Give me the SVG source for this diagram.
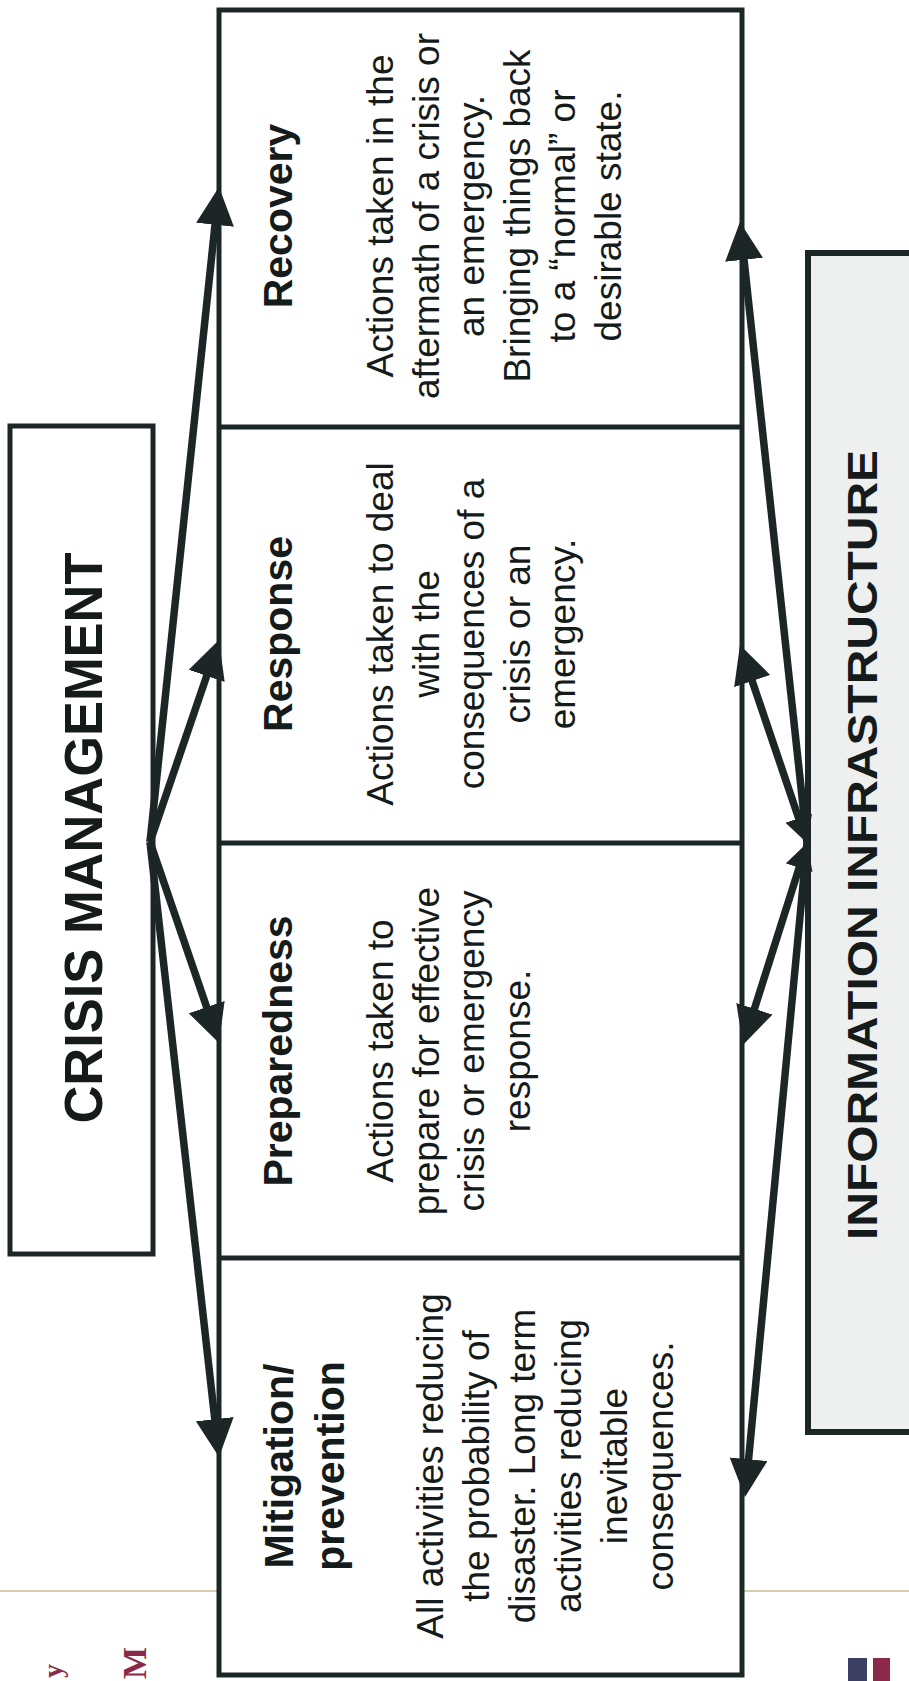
<svg xmlns="http://www.w3.org/2000/svg" width="909" height="1681" viewBox="0 0 909 1681">
<style>
.box{fill:#ffffff;stroke:#1d2626;stroke-width:5}
.div{stroke:#1d2626;stroke-width:5;fill:none}
.conn{stroke:#1d2626;stroke-width:7.5;fill:none}
.title{font-family:"Liberation Sans",Arial,sans-serif;font-weight:bold;font-size:41px;fill:#151a1a;text-anchor:middle}
.body{font-family:"Liberation Sans",Arial,sans-serif;font-size:37px;fill:#151a1a;text-anchor:middle}
.big{font-family:"Liberation Sans Narrow","Liberation Sans",Arial,sans-serif;font-weight:bold;fill:#151a1a;text-anchor:middle}
.frag{font-family:"Liberation Serif",serif;font-weight:bold;fill:#8a2a48}
</style>
<defs>
<marker id="ah" markerUnits="userSpaceOnUse" markerWidth="40" markerHeight="40" refX="18" refY="19" orient="auto">
<path d="M0,0 L38,19 L0,38 z" fill="#1d2626"/>
</marker>
<marker id="ahs" markerUnits="userSpaceOnUse" markerWidth="30" markerHeight="30" refX="14" refY="14" orient="auto-start-reverse">
<path d="M0,0 L26,14 L0,28 z" fill="#1d2626"/>
</marker>
</defs>
<rect width="909" height="1681" fill="#ffffff"/>
<line x1="0" y1="1591" x2="909" y2="1591" stroke="#c9bc8e" stroke-width="1.5"/>
<rect x="848" y="1658" width="19" height="30" fill="#3b3f63"/>
<rect x="873" y="1658" width="17" height="30" fill="#8a2a48"/>
<text class="frag" font-size="28" transform="translate(62,1678) rotate(-90)">y</text>
<text class="frag" font-size="34" transform="translate(146,1679) rotate(-90)">M</text>

<g id="crisis-management">
<rect class="box" x="10" y="426" width="143" height="828"/>
<text class="big" font-size="54" transform="translate(102,838) rotate(-90)" textLength="571" lengthAdjust="spacingAndGlyphs">CRISIS MANAGEMENT</text>
</g>

<g id="information-infrastructure">
<rect x="808" y="253" width="140" height="1179" fill="#eef0ef" stroke="#1d2626" stroke-width="6"/>
<text class="big" font-size="43" transform="translate(877,845) rotate(-90)" textLength="790" lengthAdjust="spacingAndGlyphs">INFORMATION INFRASTRUCTURE</text>
</g>

<g id="phases-frame">
<rect class="box" x="219" y="10" width="523" height="1665"/>
<line class="div" x1="219" y1="427" x2="742" y2="427"/>
<line class="div" x1="219" y1="843" x2="742" y2="843"/>
<line class="div" x1="219" y1="1258" x2="742" y2="1258"/>
</g>

<g id="recovery">
<text class="title" transform="translate(292,216) rotate(-90)">Recovery</text>
<text class="body" transform="translate(393,216) rotate(-90)"><tspan x="0" y="0">Actions taken in the</tspan><tspan x="0" y="45.5">aftermath of a crisis or</tspan><tspan x="0" y="91">an emergency.</tspan><tspan x="0" y="136.5">Bringing things back</tspan><tspan x="0" y="182">to a “normal” or</tspan><tspan x="0" y="227.5">desirable state.</tspan></text>
</g>

<g id="response">
<text class="title" transform="translate(292,634) rotate(-90)">Response</text>
<text class="body" transform="translate(393,634) rotate(-90)"><tspan x="0" y="0">Actions taken to deal</tspan><tspan x="0" y="45.5">with the</tspan><tspan x="0" y="91">consequences of a</tspan><tspan x="0" y="136.5">crisis or an</tspan><tspan x="0" y="182">emergency.</tspan></text>
</g>

<g id="preparedness">
<text class="title" transform="translate(292,1051) rotate(-90)">Preparedness</text>
<text class="body" transform="translate(393,1051) rotate(-90)"><tspan x="0" y="0">Actions taken to</tspan><tspan x="0" y="45.5">prepare for effective</tspan><tspan x="0" y="91">crisis or emergency</tspan><tspan x="0" y="136.5">response.</tspan></text>
</g>

<g id="mitigation-prevention">
<text class="title" transform="translate(293,1466) rotate(-90)"><tspan x="0" y="0">Mitigation/</tspan><tspan x="0" y="51">prevention</tspan></text>
<text class="body" transform="translate(443,1466) rotate(-90)"><tspan x="0" y="0">All activities reducing</tspan><tspan x="0" y="46">the probability of</tspan><tspan x="0" y="92">disaster. Long term</tspan><tspan x="0" y="138">activities reducing</tspan><tspan x="0" y="184">inevitable</tspan><tspan x="0" y="230">consequences.</tspan></text>
</g>

<g id="connectors">
<line class="conn" x1="150" y1="842" x2="216.9" y2="206.9" marker-end="url(#ah)"/>
<line class="conn" x1="150" y1="842" x2="212.5" y2="658.9" marker-end="url(#ah)"/>
<line class="conn" x1="150" y1="842" x2="212.5" y2="1024.1" marker-end="url(#ah)"/>
<line class="conn" x1="150" y1="842" x2="216.8" y2="1437.1" marker-end="url(#ah)"/>
<line class="conn" x1="807" y1="843" x2="742.1" y2="241.9" marker-end="url(#ah)"/>
<line class="conn" x1="803.2" y1="831.6" x2="746.4" y2="664" marker-start="url(#ahs)" marker-end="url(#ah)"/>
<line class="conn" x1="803.4" y1="854.4" x2="749" y2="1025.9" marker-start="url(#ahs)" marker-end="url(#ah)"/>
<line class="conn" x1="807" y1="843" x2="746.9" y2="1477.1" marker-end="url(#ah)"/>
</g>
</svg>
